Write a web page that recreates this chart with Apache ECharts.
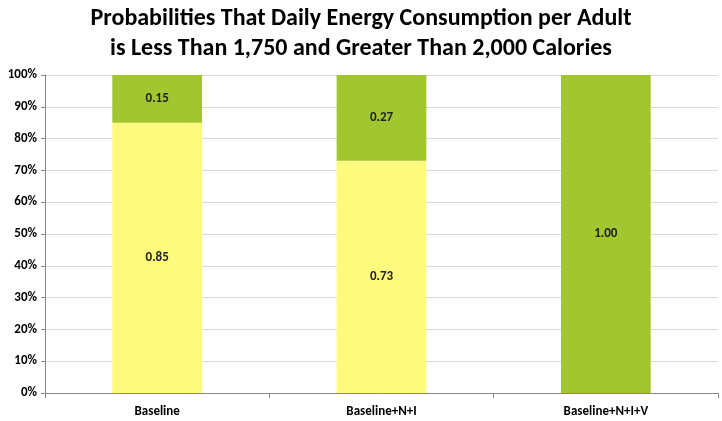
<!DOCTYPE html>
<html><head><meta charset="utf-8">
<script src="https://cdn.jsdelivr.net/npm/echarts@6/dist/echarts.min.js"></script>
<style>html,body{margin:0;padding:0;background:#fff}#c{width:722px;height:421px}</style>
</head><body><div id="c"></div>
<script>
var categories = ['Baseline', 'Baseline+N+I', 'Baseline+N+I+V'];
var lessThan1750 = [0.85, 0.73, 0];
var greaterThan2000 = [0.15, 0.27, 1.00];
var yTicks = [0, 0.1, 0.2, 0.3, 0.4, 0.5, 0.6, 0.7, 0.8, 0.9, 1.0];

var font = 'Carlito, Lato, "Liberation Sans", sans-serif';
var chart = echarts.init(document.getElementById('c'), null, {renderer: 'canvas'});
var lbl = {
  show: true, position: 'inside', color: '#222', fontWeight: 'bold', fontSize: 13, fontFamily: font,
  formatter: function (p) { return p.value > 0 ? p.value.toFixed(2) : ''; }
};
chart.setOption({
  animation: false,
  title: {
    text: 'Probabilities That Daily Energy Consumption per Adult\nis Less Than 1,750 and Greater Than 2,000 Calories',
    left: 'center', top: -1,
    textStyle: {fontFamily: font, fontWeight: 'bold', fontSize: 24, color: '#000', lineHeight: 30}
  },
  grid: {left: 45, right: 4, top: 75, bottom: 28, containLabel: false},
  xAxis: {
    type: 'category', data: categories,
    axisLine: {lineStyle: {color: '#868686'}},
    axisTick: {show: true, alignWithLabel: false, length: 5, lineStyle: {color: '#868686'}},
    axisLabel: {color: '#000', fontWeight: 'bold', fontSize: 13, fontFamily: font, margin: 12}
  },
  yAxis: {
    type: 'value', min: 0, max: 1, interval: 0.1,
    axisLine: {show: true, lineStyle: {color: '#868686'}},
    axisTick: {show: true, length: 4, lineStyle: {color: '#868686'}},
    splitLine: {lineStyle: {color: '#d9d9d9'}},
    axisLabel: {color: '#000', fontWeight: 'bold', fontSize: 13, fontFamily: font, margin: 8,
      formatter: function (v) { return Math.round(v * 100) + '%'; }}
  },
  series: [
    {name: 'Less than 1,750', type: 'bar', stack: 's', data: lessThan1750, barWidth: '40%',
      itemStyle: {color: '#FDFA7E'}, label: lbl},
    {name: 'Greater than 2,000', type: 'bar', stack: 's', data: greaterThan2000, barWidth: '40%',
      itemStyle: {color: '#A2C62F'}, label: lbl}
  ]
});
</script></body></html>
